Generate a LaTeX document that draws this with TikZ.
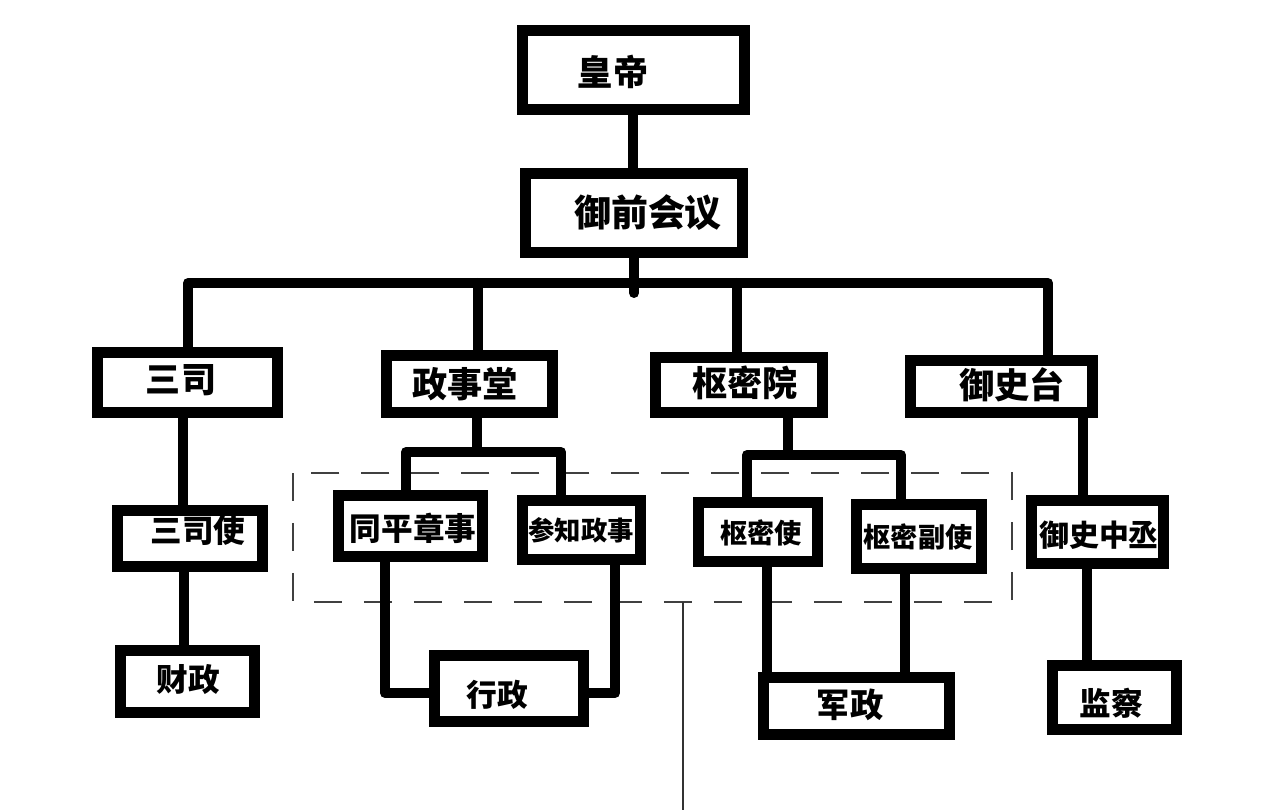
\documentclass[tikz,border=0pt]{standalone}
\usepackage{fontspec}
\newfontfamily\cjk{Noto Sans CJK SC}
\newcommand{\fs}[1]{\fontsize{#1pt}{#1pt}\selectfont}
\begin{document}
\begin{tikzpicture}[x=0.02cm,y=-0.02cm,
  box/.style={draw=black, line width=0.22cm, rectangle, inner sep=0pt, fill=white},
  lbl/.style={inner sep=0pt, font=\cjk\bfseries},
  conn/.style={draw=black, line width=0.2cm, line cap=round, line join=round},
  dashbox/.style={draw=black!75, line width=0.04cm, dash pattern=on 0.56cm off 0.44cm},
  thinline/.style={draw=black!80, line width=0.04cm}]
\useasboundingbox[fill=white] (0,0) rectangle (1280,810);

% dashed grouping frame
\draw[dashbox] (293,473) rectangle (1012,602);

% boxes
\node[box, minimum width=4.44cm, minimum height=1.58cm] (emp) at (633.5,70) {};
\node[box, minimum width=4.34cm, minimum height=1.58cm] (yq) at (634,213) {};
\node[box, minimum width=3.60cm, minimum height=1.20cm] (sansi) at (187.5,382.5) {};
\node[box, minimum width=3.32cm, minimum height=1.14cm] (zst) at (469.5,384) {};
\node[box, minimum width=3.34cm, minimum height=1.10cm] (smy) at (739,385) {};
\node[box, minimum width=3.64cm, minimum height=1.04cm] (yst) at (1001.5,386.5) {};
\node[box, minimum width=2.90cm, minimum height=1.12cm] (ssshi) at (190,538.5) {};
\node[box, minimum width=2.68cm, minimum height=1.24cm] (cz) at (187.5,681.5) {};
\node[box, minimum width=2.88cm, minimum height=1.22cm] (tpzs) at (410.5,526) {};
\node[box, minimum width=2.36cm, minimum height=1.18cm] (czzs) at (581.5,530) {};
\node[box, minimum width=2.38cm, minimum height=1.18cm] (smshi) at (758,532) {};
\node[box, minimum width=2.50cm, minimum height=1.28cm] (smfs) at (919,536.5) {};
\node[box, minimum width=2.64cm, minimum height=1.26cm] (yszc) at (1097.5,532) {};
\node[box, minimum width=2.98cm, minimum height=1.32cm] (xz) at (509,688.5) {};
\node[box, minimum width=3.72cm, minimum height=1.14cm] (jz) at (856.5,706) {};
\node[box, minimum width=2.48cm, minimum height=1.28cm] (jc) at (1114.5,697.5) {};

% labels
\node[lbl, font=\cjk\bfseries\fs{20}] (empt) at (613,72) {皇帝};
\node[lbl, font=\cjk\bfseries\fs{21}] (yqt) at (648,213) {御前会议};
\node[lbl, font=\cjk\bfseries\fs{20}] (sansit) at (181,380) {三司};
\node[lbl, font=\cjk\bfseries\fs{20}] (zstt) at (465,384) {政事堂};
\node[lbl, font=\cjk\bfseries\fs{20}] (smyt) at (745,383) {枢密院};
\node[lbl, font=\cjk\bfseries\fs{20}] (ystt) at (1012,385) {御史台};
\node[lbl, font=\cjk\bfseries\fs{18}] (ssshit) at (198,530) {三司使};
\node[lbl, font=\cjk\bfseries\fs{18}] (czt) at (188,680) {财政};
\node[lbl, font=\cjk\bfseries\fs{18}] (tpzst) at (413,528) {同平章事};
\node[lbl, font=\cjk\bfseries\fs{15}] (czzst) at (581,530) {参知政事};
\node[lbl, font=\cjk\bfseries\fs{15.5}] (smshit) at (761,533) {枢密使};
\node[lbl, font=\cjk\bfseries\fs{15.5}] (smfst) at (918,537) {枢密副使};
\node[lbl, font=\cjk\bfseries\fs{17}] (yszct) at (1099,535) {御史中丞};
\node[lbl, font=\cjk\bfseries\fs{17.5}] (xzt) at (497,695) {行政};
\node[lbl, font=\cjk\bfseries\fs{19}] (jzt) at (850,705) {军政};
\node[lbl, font=\cjk\bfseries\fs{18}] (jct) at (1111,703) {监察};

% junction coordinates
\coordinate (bL) at (188,283);
\coordinate (bR) at (1048,283);
\coordinate (bZ) at (478,283);
\coordinate (bS) at (737,283);
\coordinate (yqd) at (634,293);
\coordinate (zL) at (406,452);
\coordinate (zR) at (561,452);
\coordinate (sL) at (747,455);
\coordinate (sR) at (901,455);
\coordinate (xL) at (385,693);
\coordinate (xR) at (615,693);

% connectors
\draw[conn] (emp.south -| 633,0) -- (yq.north -| 633,0);
\draw[conn] (yq.south -| yqd) -- (yqd);
\draw[conn] (sansi.north -| bL) -- (bL) -- (bR) -- (yst.north -| bR);
\draw[conn] (bZ) -- (zst.north -| bZ);
\draw[conn] (bS) -- (smy.north -| bS);

\draw[conn] (sansi.south -| 183,0) -- (ssshi.north -| 183,0);
\draw[conn] (ssshi.south -| 184,0) -- (cz.north -| 184,0);

\draw[conn] (zst.south -| 477,0) -- (477,452);
\draw[conn] (tpzs.north -| zL) -- (zL) -- (zR) -- (czzs.north -| zR);
\draw[conn] (tpzs.south -| xL) -- (xL) -- (xz.west |- xL);
\draw[conn] (czzs.south -| xR) -- (xR) -- (xz.east |- xR);

\draw[conn] (smy.south -| 788,0) -- (788,455);
\draw[conn] (smshi.north -| sL) -- (sL) -- (sR) -- (smfs.north -| sR);
\draw[conn] (smshi.south -| 767,0) -- (jz.north -| 767,0);
\draw[conn] (smfs.south -| 905,0) -- (jz.north -| 905,0);

\draw[conn] (yst.south -| 1083,0) -- (yszc.north -| 1083,0);
\draw[conn] (yszc.south -| 1087,0) -- (jc.north -| 1087,0);

% thin line below the frame
\coordinate (tT) at (683,602);
\coordinate (tB) at (683,810);
\draw[thinline] (tT) -- (tB);
\end{tikzpicture}
\end{document}
